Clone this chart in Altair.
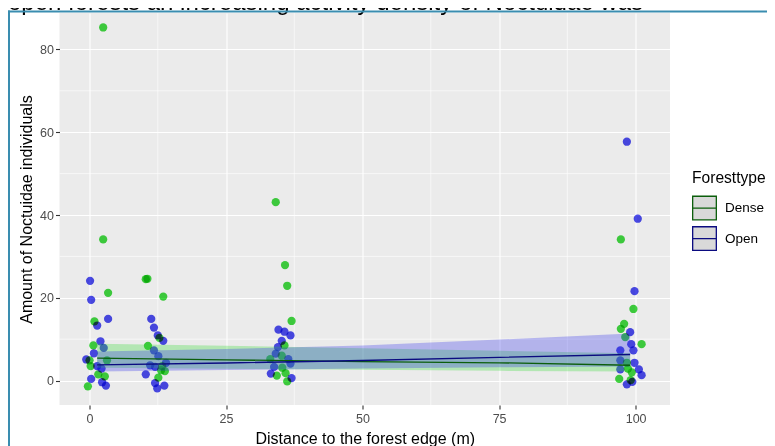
import altair as alt
import pandas as pd

TITLE_FRAGMENT = "open forests an increasing activity density of Noctuidae was"
X_TITLE = "Distance to the forest edge (m)"
Y_TITLE = "Amount of Noctuidae individuals"
LEGEND_TITLE = "Foresttype"
groups = ["Dense", "Open"]

dense_x = [2.5, 2.5, 3.4, 0.9, 0.7, 0.0, 0.2, 3.2, 1.6, 2.8, -0.3,
           10.3, 10.6, 13.5, 12.8, 10.7, 13.3, 13.8, 13.1, 12.6,
           34.1, 35.8, 36.2, 37.0, 35.7, 35.2, 33.1, 35.3, 34.3, 35.9, 36.2,
           97.3, 99.6, 97.9, 97.3, 98.1, 101.1, 98.4, 98.6, 99.3, 97.0, 99.1]
dense_y = [85.3, 34.1, 21.2, 14.3, 8.5, 4.9, 3.5, 4.9, 1.5, 1.0, -1.4,
           24.5, 24.6, 20.3, 10.3, 8.4, 3.5, 2.3, 2.5, 0.7,
           43.1, 27.9, 22.9, 14.4, 8.5, 6.0, 5.2, 3.1, 1.2, 1.8, -0.2,
           34.1, 17.3, 13.7, 12.5, 10.5, 8.8, 4.3, 2.9, 2.0, 0.4, 0.1]
open_x = [0.1, 0.3, 3.4, 1.4, 2.0, 2.6, 0.8, -0.6, 1.4, 2.2, 0.3, 2.3, 3.0,
          11.3, 11.8, 12.5, 13.5, 11.8, 12.6, 11.1, 12.0, 14.0, 10.3, 12.0, 13.7, 12.4,
          34.6, 35.7, 36.8, 35.2, 34.5, 34.1, 36.4, 36.8, 33.8, 33.2, 37.0,
          98.4, 100.4, 99.8, 99.0, 99.2, 99.6, 97.2, 97.2, 99.8, 100.6, 101.1, 97.2, 98.4, 99.4]
open_y = [24.1, 19.5, 14.9, 13.3, 9.5, 7.9, 6.6, 5.1, 3.5, 2.9, 0.4, -0.4, -1.2,
          14.9, 12.8, 10.9, 9.6, 7.3, 5.9, 3.7, 3.3, 4.3, 1.5, -0.6, -1.2, -1.9,
          12.3, 11.8, 10.9, 9.6, 8.1, 6.5, 5.2, 4.1, 3.3, 1.7, 0.6,
          57.7, 39.1, 21.6, 11.7, 8.8, 7.3, 7.3, 4.9, 4.3, 2.7, 1.3, 2.7, -0.9, -0.3]

# fitted curves and confidence bands
fit_x = [1.4, 25, 50, 75, 99]
dense_fit = [5.4, 5.0, 4.6, 4.3, 3.7]
dense_lo = [3.1, 2.85, 2.6, 2.35, 2.2]
dense_hi = [8.9, 8.4, 7.8, 7.2, 6.6]
open_fit = [3.8, 4.25, 4.85, 5.6, 6.3]
open_lo = [2.2, 2.55, 2.9, 3.2, 3.4]
open_hi = [7.0, 7.6, 8.5, 9.9, 11.4]

x_ticks = [0, 25, 50, 75, 100]
y_ticks = [0, 20, 40, 60, 80]
x_minor = [12.5, 37.5, 62.5, 87.5]
y_minor = [10, 30, 50, 70]

FONT = "Liberation Sans"
W, H = 610.5, 392
PAD = {"left": 51.5, "top": 5, "right": 97, "bottom": 41}

pts = pd.DataFrame({
    "distance": dense_x + open_x,
    "count": dense_y + open_y,
    "Foresttype": ["Dense"] * len(dense_x) + ["Open"] * len(open_x),
})
fit = pd.DataFrame({
    "distance": fit_x * 2,
    "count": dense_fit + open_fit,
    "lo": dense_lo + open_lo,
    "hi": dense_hi + open_hi,
    "Foresttype": ["Dense"] * len(fit_x) + ["Open"] * len(fit_x),
})

xs = alt.Scale(domain=[-5.5, 106.3], nice=False, zero=False)
ys = alt.Scale(domain=[-5.9, 88.8], nice=False, zero=False)
x_axis = alt.Axis(values=x_ticks, titleY=38, titleBaseline="alphabetic", labelPadding=3)
y_axis = alt.Axis(values=y_ticks, titleX=-28.5, titleY=H / 2, titleAngle=270,
                  titleBaseline="alphabetic", titleAlign="center", labelPadding=2)


def X(field="distance"):
    return alt.X(f"{field}:Q", scale=xs, title=X_TITLE, axis=x_axis)


def Y(field="count"):
    return alt.Y(f"{field}:Q", scale=ys, title=Y_TITLE, axis=y_axis)


xminor = alt.Chart(pd.DataFrame({"distance": x_minor})).mark_rule(
    color="white", strokeWidth=0.6).encode(x=X())
yminor = alt.Chart(pd.DataFrame({"count": y_minor})).mark_rule(
    color="white", strokeWidth=0.6).encode(y=Y())

points = alt.Chart(pts).mark_circle(size=68, opacity=1, blend="multiply").encode(
    x=X(), y=Y(),
    color=alt.Color("Foresttype:N", scale=alt.Scale(range=["#41D941", "#4C4CEF"]),
                    legend=None),
)

band = alt.Chart(fit).mark_area(opacity=0.3).encode(
    x=X(), y=Y("lo"), y2="hi:Q",
    fill=alt.Fill("Foresttype:N", scale=alt.Scale(range=["#33DA33", "#3333EB"]),
                  legend=None),
)

line = alt.Chart(fit).mark_line(strokeWidth=1.3).encode(
    x=X(), y=Y(),
    stroke=alt.Stroke(
        "Foresttype:N",
        scale=alt.Scale(domain=groups, range=["#0B5E0B", "#0B0B80"]),
        legend=alt.Legend(
            title=LEGEND_TITLE, orient="none", legendX=632.5, legendY=158,
            symbolType="M-1,-1L1,-1L1,1L-1,1Z M-1,0L1,0",
            symbolSize=560, symbolFillColor="#D9D9D9", symbolStrokeWidth=1.3,
            titleFont=FONT, titleFontSize=15.6, titleFontWeight="normal", titleColor="black",
            titlePadding=9, labelFont=FONT, labelFontSize=13.5, labelColor="black",
            labelOffset=8, rowPadding=1.5,
        ),
    ),
)

one = pd.DataFrame({"t": [TITLE_FRAGMENT]})
top_text = alt.Chart(one).mark_text(align="left", baseline="alphabetic", fontSize=24,
                                    font=FONT, color="black").encode(
    x=alt.value(-51.5), y=alt.value(-3), text="t:N")
border_top = alt.Chart(one).mark_rule(color="#3A8DB0", strokeWidth=2).encode(
    x=alt.value(-51.5), x2=alt.value(707.5), y=alt.value(-1.5))
border_left = alt.Chart(one).mark_rule(color="#3A8DB0", strokeWidth=2).encode(
    x=alt.value(-50.5), y=alt.value(-2.5), y2=alt.value(440))

chart = alt.layer(xminor, yminor, points, band, line, top_text, border_top, border_left).properties(
    width=W, height=H,
    autosize=alt.AutoSizeParams(type="none"),
    padding=PAD,
    background="white",
).configure_view(fill="#EBEBEB", stroke=None).configure_axis(
    grid=True, gridColor="white", gridWidth=1.1, domain=False,
    tickColor="#333333", tickWidth=1.1, tickSize=4,
    labelFont=FONT, labelFontSize=12.5, labelColor="#4D4D4D",
    titleFont=FONT, titleFontSize=16, titleFontWeight="normal", titleColor="black",
)

chart.save("out.html", embed_options={"renderer": "svg", "actions": False})
